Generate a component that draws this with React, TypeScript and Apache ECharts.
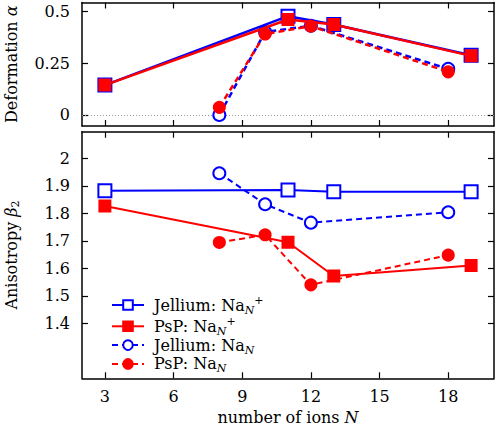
import React, { useEffect, useRef } from "react";
import * as echarts from "echarts";

const xCharged = [3, 11, 13, 19];
const xNeutral = [8, 10, 12, 18];

const defJelliumCharged = [0.144, 0.476, 0.436, 0.288];
const defPspCharged = [0.144, 0.46, 0.436, 0.285];
const defJelliumNeutral = [0, 0.4, 0.43, 0.222];
const defPspNeutral = [0.037, 0.39, 0.428, 0.208];

const aniJelliumCharged = [1.882, 1.885, 1.879, 1.879];
const aniPspCharged = [1.827, 1.695, 1.572, 1.61];
const aniJelliumNeutral = [1.946, 1.833, 1.766, 1.804];
const aniPspNeutral = [1.694, 1.722, 1.54, 1.648];

const xTicks = [3, 6, 9, 12, 15, 18];
const defTicks = [0, 0.25, 0.5];
const aniTicks = [1.4, 1.5, 1.6, 1.7, 1.8, 1.9, 2];

const seriesNames = ["Jellium: NaN+", "PsP: NaN+", "Jellium: NaN", "PsP: NaN"];
const legendLabels: Record<string, string> = {
  "Jellium: NaN+": "{a|Jellium: Na}{sub|N}{sup|+}",
  "PsP: NaN+": "{a|PsP: Na}{sub|N}{sup|+}",
  "Jellium: NaN": "{a|Jellium: Na}{sub|N}",
  "PsP: NaN": "{a|PsP: Na}{sub|N}",
};

const FONT = "DejaVu Serif";
const BLUE = "#0000ff";
const RED = "#ff0000";

const pair = (xs: number[], ys: number[]) => xs.map((x, i) => [x, ys[i]]);

export default function App() {
  const ref = useRef<HTMLDivElement>(null);
  useEffect(() => {
    document.body.style.margin = "0";
    const chart = echarts.init(ref.current!, null, { renderer: "svg" });

    const richName = {
      a: { fontFamily: FONT, fontSize: 16, color: "#000", lineHeight: 20 },
      i: { fontFamily: FONT, fontSize: 16, fontStyle: "italic", color: "#000", lineHeight: 20 },
      s: { fontFamily: FONT, fontSize: 11, color: "#000", lineHeight: 11, verticalAlign: "bottom" },
    };
    const richXName = {
      a: { fontFamily: FONT, fontSize: 16, color: "#000", lineHeight: 17 },
      i: { fontFamily: FONT, fontSize: 16, fontStyle: "italic", color: "#000", lineHeight: 17 },
    };

    const xBase = (gridIndex: number, pos: "bottom" | "top", labels: boolean) => ({
      type: "value",
      gridIndex,
      position: pos,
      min: 2,
      max: 20,
      axisLine: { show: true, onZero: false, lineStyle: { color: "#000", width: 1.5 } },
      axisTick: { show: true, inside: true, length: 6, customValues: xTicks, lineStyle: { color: "#000", width: 1.2 } },
      axisLabel: {
        show: labels,
        customValues: xTicks,
        margin: 10,
        fontFamily: FONT,
        fontSize: 16,
        color: "#000",
      },
      splitLine: { show: false },
    });

    const yBase = (gridIndex: number, pos: "left" | "right", min: number, max: number, ticks: number[], labels: boolean) => ({
      type: "value",
      gridIndex,
      position: pos,
      min,
      max,
      axisLine: { show: true, onZero: false, lineStyle: { color: "#000", width: 1.5 } },
      axisTick: { show: true, inside: true, length: 6, customValues: ticks, lineStyle: { color: "#000", width: 1.2 } },
      axisLabel: {
        show: labels,
        customValues: ticks,
        margin: 12,
        fontFamily: FONT,
        fontSize: 16,
        color: "#000",
      },
      splitLine: { show: false },
    });

    const mk = (
      name: string,
      xi: number,
      yi: number,
      data: number[][],
      color: string,
      dashed: boolean,
      symbol: string,
      size: number,
      width: number,
      z: number,
      extra: any = {}
    ) => ({
      type: "line",
      name,
      xAxisIndex: xi,
      yAxisIndex: yi,
      data,
      symbol,
      symbolSize: size,
      showAllSymbol: true,
      z,
      lineStyle: { color, width, type: dashed ? [6, 4] : "solid" },
      itemStyle: {
        color,
        borderColor: color,
        borderWidth: 2,
      },
      emphasis: { disabled: true },
      ...extra,
    });

    const option: any = {
      animation: false,
      backgroundColor: "#fff",
      grid: [
        { left: 82, right: 5, top: 2.5, height: 123.5, outerBoundsMode: "none" },
        { left: 82, right: 5, top: 131.7, height: 246.6, outerBoundsMode: "none" },
      ],
      xAxis: [
        xBase(0, "bottom", false),
        xBase(0, "top", false),
        {
          ...xBase(1, "bottom", true),
          name: "{a|number of ions }{i|N}",
          nameLocation: "middle",
          nameGap: 30,
          nameTextStyle: { rich: richXName },
        },
        xBase(1, "top", false),
      ],
      yAxis: [
        {
          ...yBase(0, "left", -0.053, 0.542, defTicks, true),
          name: "{a|Deformation }{i|α}",
          nameLocation: "middle",
          nameGap: 61,
          nameRotate: 90,
          nameTextStyle: { rich: richName },
        },
        yBase(0, "right", -0.053, 0.542, defTicks, false),
        {
          ...yBase(1, "left", 1.2, 2.097, aniTicks, true),
          name: "{a|Anisotropy }{i|β}{s|2}",
          nameLocation: "middle",
          nameGap: 61,
          nameRotate: 90,
          nameTextStyle: { rich: richName },
        },
        yBase(1, "right", 1.2, 2.097, aniTicks, false),
      ],
      legend: {
        show: true,
        orient: "vertical",
        left: 106,
        top: 289.5,
        itemWidth: 32,
        itemHeight: 12,
        itemGap: 0.3,
        data: seriesNames,
        selectedMode: false,
        formatter: (n: string) => legendLabels[n],
        textStyle: {
          rich: {
            a: { fontFamily: FONT, fontSize: 16, color: "#000", lineHeight: 21, padding: [0, 0, 0, 5] },
            sub: { fontFamily: FONT, fontSize: 11, fontStyle: "italic", color: "#000", lineHeight: 12, verticalAlign: "bottom" },
            sup: { fontFamily: FONT, fontSize: 11, color: "#000", lineHeight: 10, verticalAlign: "top" },
          },
        },
      },
      series: [
        // bottom panel
        mk(seriesNames[0], 2, 2, pair(xCharged, aniJelliumCharged), BLUE, false, "emptyRect", 13, 2, 2),
        mk(seriesNames[1], 2, 2, pair(xCharged, aniPspCharged), RED, false, "rect", 11, 2, 3),
        mk(seriesNames[2], 2, 2, pair(xNeutral, aniJelliumNeutral), BLUE, true, "emptyCircle", 12, 2, 4),
        mk(seriesNames[3], 2, 2, pair(xNeutral, aniPspNeutral), RED, true, "circle", 11, 2, 5),
        // top panel
        mk(seriesNames[0], 0, 0, pair(xCharged, defJelliumCharged), BLUE, false, "emptyRect", 13, 2.5, 2, {
          markLine: {
            silent: true,
            symbol: "none",
            label: { show: false },
            lineStyle: { color: "#999", width: 1, type: [1, 2] },
            data: [{ yAxis: 0 }],
            z: 1,
          },
        }),
        mk(seriesNames[2], 0, 0, pair(xNeutral, defJelliumNeutral), BLUE, true, "emptyCircle", 12, 2.5, 3),
        mk(seriesNames[1], 0, 0, pair(xCharged, defPspCharged), RED, false, "rect", 11, 2.5, 4),
        mk(seriesNames[3], 0, 0, pair(xNeutral, defPspNeutral), RED, true, "circle", 11, 2.5, 5),
      ],
    };
    chart.setOption(option);
    return () => chart.dispose();
  }, []);
  return <div ref={ref} style={{ width: 499, height: 428 }} />;
}
